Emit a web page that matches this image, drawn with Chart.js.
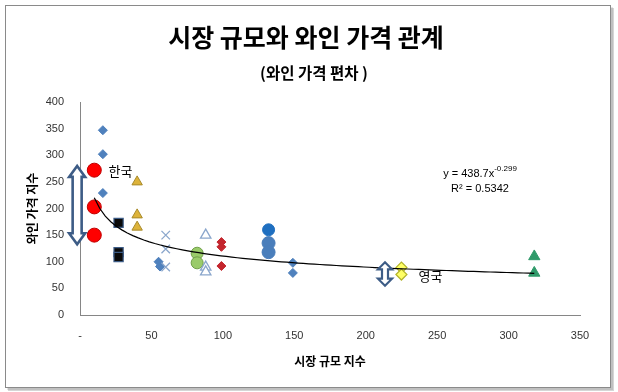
<!DOCTYPE html>
<html><head><meta charset="utf-8">
<script src="https://cdn.jsdelivr.net/npm/chart.js@4.4.1/dist/chart.umd.min.js"></script>
<style>html,body{margin:0;padding:0;background:#fff;}#wrap{width:618px;height:392px;}</style>
</head><body><div id="wrap"><canvas id="c" width="618" height="392"></canvas></div>
<script>
const FONT = "'Liberation Sans', 'Noto Sans CJK KR', sans-serif";
const KFONT = "'Noto Sans CJK KR', sans-serif";

const chartTitle = '시장 규모와 와인 가격 관계';
const chartSubtitle = '(와인 가격 편차 )';
const xAxisTitle = '시장 규모 지수';
const yAxisTitle = '와인 가격 지수';
const xTickValues = [0, 50, 100, 150, 200, 250, 300, 350];
const yTickValues = [0, 50, 100, 150, 200, 250, 300, 350, 400];

// series
const blueDiamonds = [{x:16,y:347},{x:16,y:302},{x:16,y:229},{x:55,y:100},{x:56,y:91},{x:149,y:98},{x:149,y:79}];
const redCircles = [{x:10,y:272},{x:10,y:203},{x:10,y:150}];
const blackSquares = [{x:27,y:173},{x:27,y:118},{x:27,y:109}];
const goldTriangles = [{x:40,y:250},{x:40,y:188},{x:40,y:165}];
const blueCrosses = [{x:60,y:150},{x:60,y:124},{x:60,y:90}];
const hollowTriangles = [{x:88,y:150},{x:88,y:90},{x:88,y:81}];
const greenCircles = [{x:82,y:116},{x:82,y:98}];
const redDiamonds = [{x:99,y:137},{x:99,y:128},{x:99,y:92}];
const darkBlueCircles = [{x:132,y:160}];
const blueCircles = [{x:132,y:135},{x:132,y:118}];
const yellowDiamonds = [{x:225,y:89},{x:225,y:76}];
const greenTriangles = [{x:318,y:110},{x:318,y:79}];

// power trendline shown in the chart: y = 438.7 x^-0.299
const trendA = 438.7, trendB = -0.299;
const trendFrom = 10, trendTo = 318;
const trendText = 'y = 438.7x', trendExp = '-0.299', r2Text = 'R² = 0.5342';
const trendLabelAt = {x: 280, y: 265};

// annotations (data coordinates)
const rangeArrows = [{x:-2, top:280, bottom:133}, {x:213.5, top:99, bottom:55}];
const countryLabels = [{text:'한국', x:20, y:270}, {text:'영국', x:237, y:73}];

const trendPoints = [];
for (let i = 0; i <= 80; i++) {
  const x = trendFrom + (trendTo - trendFrom) * i / 80;
  trendPoints.push({x, y: trendA * Math.pow(x, trendB)});
}

const arrowStyles = [
  {body:9, head:16, headLen:11, lw:2.6},
  {body:6, head:14, headLen:7, lw:2.2}
];

const deco = {
  id: 'deco',
  beforeDraw(chart) {
    const ctx = chart.ctx;
    ctx.save();
    ctx.fillStyle = '#fff'; ctx.fillRect(0, 0, 618, 392);
    ctx.fillStyle = 'rgba(0,0,0,0.16)'; ctx.fillRect(8, 8, 606, 383);
    ctx.fillStyle = 'rgba(0,0,0,0.10)'; ctx.fillRect(7, 7, 606, 383);
    ctx.fillStyle = '#fff'; ctx.fillRect(5, 5, 606, 383);
    ctx.strokeStyle = '#8a8a8a'; ctx.lineWidth = 1;
    ctx.strokeRect(5.5, 5.5, 605, 382);
    ctx.fillStyle = '#000';
    ctx.textAlign = 'center'; ctx.textBaseline = 'middle';
    ctx.font = 'bold 25px ' + KFONT;
    ctx.fillText(chartTitle, 306, 37);
    ctx.font = 'bold 15.5px ' + KFONT;
    ctx.fillText(chartSubtitle, 314, 73);
    ctx.restore();
  },
  afterDatasetsDraw(chart) {
    const ctx = chart.ctx;
    const xs = chart.scales.x, ys = chart.scales.y;
    ctx.save();
    rangeArrows.forEach((a, i) => {
      const st = arrowStyles[i];
      const cx = xs.getPixelForValue(a.x);
      const t = ys.getPixelForValue(a.top), b = ys.getPixelForValue(a.bottom);
      const hb = st.body / 2, hh = st.head / 2;
      ctx.beginPath();
      ctx.moveTo(cx, t);
      ctx.lineTo(cx + hh, t + st.headLen);
      ctx.lineTo(cx + hb, t + st.headLen);
      ctx.lineTo(cx + hb, b - st.headLen);
      ctx.lineTo(cx + hh, b - st.headLen);
      ctx.lineTo(cx, b);
      ctx.lineTo(cx - hh, b - st.headLen);
      ctx.lineTo(cx - hb, b - st.headLen);
      ctx.lineTo(cx - hb, t + st.headLen);
      ctx.lineTo(cx - hh, t + st.headLen);
      ctx.closePath();
      ctx.fillStyle = '#fff'; ctx.fill();
      ctx.strokeStyle = '#3d5c86'; ctx.lineWidth = st.lw; ctx.lineJoin = 'miter';
      ctx.stroke();
    });
    ctx.fillStyle = '#000';
    ctx.textAlign = 'left'; ctx.textBaseline = 'middle';
    ctx.font = '13px ' + KFONT;
    countryLabels.forEach(l => ctx.fillText(l.text, xs.getPixelForValue(l.x), ys.getPixelForValue(l.y)));
    // equation
    const ex = xs.getPixelForValue(trendLabelAt.x), ey = ys.getPixelForValue(trendLabelAt.y);
    ctx.font = '11px ' + FONT;
    const w1 = ctx.measureText(trendText).width;
    ctx.font = '8px ' + FONT;
    const w2 = ctx.measureText(trendExp).width;
    const start = ex - (w1 + w2) / 2;
    ctx.font = '11px ' + FONT;
    ctx.fillText(trendText, start, ey);
    ctx.font = '8px ' + FONT;
    ctx.fillText(trendExp, start + w1, ey - 5);
    ctx.font = '11px ' + FONT;
    ctx.textAlign = 'center';
    ctx.fillText(r2Text, ex, ey + 15);
    ctx.restore();
  }
};

function pts(data, style, radius, bg, border, bw) {
  return {type:'scatter', data, showLine:false, pointStyle:style, pointRadius:radius, pointHoverRadius:radius,
          backgroundColor:bg, borderColor:border, borderWidth:bw};
}

new Chart(document.getElementById('c'), {
  type: 'scatter',
  data: {
    datasets: [
      {type:'line', data: trendPoints, borderColor:'#000', borderWidth:1.2, pointRadius:0, fill:false, tension:0},
      pts(redCircles, 'circle', 7, '#ff0000', '#c00000', 1),
      pts(blackSquares, 'rect', 6.5, '#0a0a0a', '#3d5c86', 1.2),
      pts(goldTriangles, 'triangle', 6, '#ddb33a', '#a88a2a', 1),
      pts(blueCrosses, 'crossRot', 6, '#8aa6cc', '#8aa6cc', 1.3),
      pts(hollowTriangles, 'triangle', 6, '#ffffff', '#8aa6cc', 1.3),
      pts(greenCircles, 'circle', 6, '#9acb6a', '#71a04a', 1),
      pts(redDiamonds, 'rectRot', 4.5, '#c4262e', '#c4262e', 1),
      pts(darkBlueCircles, 'circle', 6, '#1f6fc0', '#1f6fc0', 1),
      pts(blueCircles, 'circle', 6.5, '#4a7ebb', '#4a7ebb', 1),
      pts(yellowDiamonds, 'rectRot', 5.5, '#ffff66', '#b3b32a', 1.2),
      pts(greenTriangles, 'triangle', 6.5, '#2f9a6a', '#2f9a6a', 1),
      pts(blueDiamonds, 'rectRot', 4.5, '#4f81bd', '#4f81bd', 1)
    ]
  },
  options: {
    responsive: false, animation: false, devicePixelRatio: 1,
    layout: {padding: {left: 0, right: 38, top: 102, bottom: 0}},
    plugins: {legend: {display:false}, tooltip: {enabled:false}},
    scales: {
      x: {
        type: 'linear', min: 0, max: 350,
        afterBuildTicks: s => { s.ticks = xTickValues.map(v => ({value: v})); },
        grid: {display: false, drawTicks: false},
        border: {display: true, color: '#868686', width: 1},
        ticks: {font: {family: FONT, size: 11}, color: '#333', padding: 14, maxRotation: 0, autoSkip: false,
                callback: v => v === 0 ? '-' : String(v)},
        title: {display: true, text: xAxisTitle, color: '#000', font: {family: KFONT, size: 12, weight: 'bold'},
                padding: {top: 0, bottom: 23}},
        afterFit: s => { s.height = 77; }
      },
      y: {
        type: 'linear', min: 0, max: 400,
        afterBuildTicks: s => { s.ticks = yTickValues.map(v => ({value: v})); },
        grid: {display: false, drawTicks: false},
        border: {display: true, color: '#868686', width: 1},
        ticks: {font: {family: FONT, size: 11}, color: '#333', padding: 16, autoSkip: false},
        title: {display: true, text: yAxisTitle, color: '#000', font: {family: KFONT, size: 12, weight: 'bold'},
                padding: {top: 25, bottom: 0}},
        afterFit: s => { s.width = 80; }
      }
    }
  },
  plugins: [deco]
});
</script>
</body></html>
